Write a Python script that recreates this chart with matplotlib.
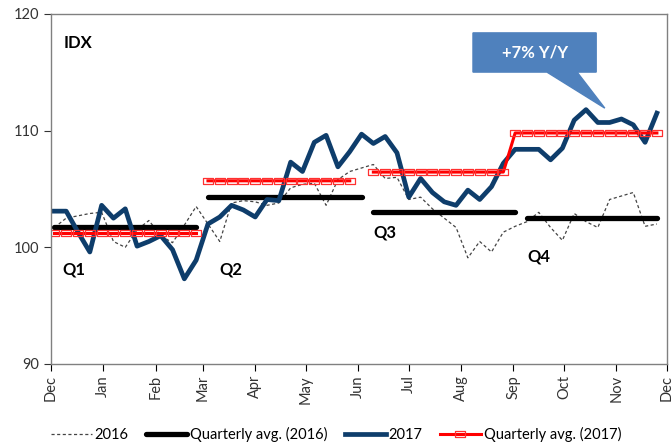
import matplotlib
matplotlib.use("Agg")
import matplotlib.pyplot as plt
from matplotlib.patches import Polygon
import numpy as np
import pandas as pd

plt.rcParams['font.family'] = ['Lato', 'DejaVu Sans']

# weekly observations
first_week = '2016-12-03'
n_weeks = 52

idx_2016 = [101.7, 102.5, 102.7, 102.9, 103.0, 100.5, 100.0, 101.5, 102.3, 101.0,
            100.4, 101.9, 103.5, 102.0, 100.5, 103.8, 104.0, 103.9, 103.6, 103.8,
            105.1, 105.4, 105.5, 103.6, 105.8, 106.5, 106.8, 107.1, 105.9, 106.0,
            104.1, 104.3, 103.3, 102.5, 101.7, 99.1, 100.5, 99.6, 101.3, 101.8,
            102.2, 103.0, 101.7, 100.6, 102.9, 102.2, 101.7, 104.1, 104.4, 104.7,
            101.8, 102.0]

idx_2017 = [103.1, 103.1, 101.3, 99.6, 103.6, 102.5, 103.3, 100.1, 100.5, 101.0,
            99.8, 97.3, 98.9, 102.0, 102.6, 103.6, 103.2, 102.6, 104.1, 104.0,
            107.3, 106.5, 109.0, 109.6, 106.9, 108.2, 109.7, 108.9, 109.5, 108.1,
            104.3, 105.9, 104.7, 103.9, 103.6, 104.9, 104.1, 105.2, 107.2, 108.4,
            108.4, 108.4, 107.5, 108.5, 110.9, 111.8, 110.7, 110.7, 111.0, 110.5,
            109.0, 111.5]

# quarterly averages: (first week, last week, level)
q_avg_2016 = [(0, 12, 101.75), (13, 26, 104.3), (27, 39, 103.0), (40, 51, 102.5)]
q_avg_2017 = [(0, 12, 101.25), (13, 25, 105.7), (27, 38, 106.45), (39, 51, 109.8)]
q_labels = ['Q1', 'Q2', 'Q3', 'Q4']
month_names = ['Dec', 'Jan', 'Feb', 'Mar', 'Apr', 'May', 'Jun',
               'Jul', 'Aug', 'Sep', 'Oct', 'Nov', 'Dec']

weeks = pd.date_range(first_week, periods=n_weeks, freq='7D')
months = pd.date_range('2016-12-01', '2017-12-01', freq='MS')

fig = plt.figure(figsize=(6.72, 4.47), dpi=100)
ax = fig.add_axes([0.0759, 0.1857, 0.9167, 0.783])

navy = '#0E3D6B'
red = '#FF0000'

l16, = ax.plot(weeks, idx_2016, color='#444444', lw=0.9, ls=(0, (2.5, 2)),
               label='2016')

# black quarterly averages 2016
for a, b, lvl in q_avg_2016:
    lq16, = ax.plot(weeks[a:b + 1], [lvl] * (b - a + 1), color='black', lw=3.8,
                    solid_capstyle='round', label='Quarterly avg. (2016)')

l17, = ax.plot(weeks, idx_2017, color=navy, lw=3.4, solid_joinstyle='round',
               label='2017')

# red quarterly averages 2017 (Q1 and Q2 stand alone, Q3 runs into Q4)
avg17 = np.full(n_weeks, np.nan)
for a, b, lvl in q_avg_2017:
    avg17[a:b + 1] = lvl
box = [(-1.4, -1), (1.4, -1), (1.4, 1), (-1.4, 1), (-1.4, -1)]
mk = dict(color=red, lw=2.2, marker=box, ms=7, mfc='none', mec='#FF3030', mew=0.9)
ax.plot(weeks[:13], avg17[:13], **mk)
lq17, = ax.plot(weeks[13:], avg17[13:], label='Quarterly avg. (2017)', **mk)

ax.set_xlim(months[0], months[-1])
ax.set_ylim(90, 120)
ax.set_yticks([90, 100, 110, 120])
ax.set_xticks(months)
ax.set_xticklabels(month_names, rotation=90, fontsize=10.5, color='#333333')
ax.tick_params(axis='y', labelsize=10.5, colors='#333333', length=5, width=0.8)
ax.tick_params(axis='x', length=5, width=0.8, pad=3)
for s in ax.spines.values():
    s.set_color('#808080')
    s.set_linewidth(1.0)

ax.text(0.021, 0.917, 'IDX', transform=ax.transAxes, fontsize=12,
        fontweight='bold', va='center', ha='left')
q_pos = [(0.018, 0.269), (0.274, 0.269), (0.523, 0.377), (0.774, 0.306)]
for lab, (px, py) in zip(q_labels, q_pos):
    ax.text(px, py, lab, transform=ax.transAxes, fontsize=12,
            fontweight='bold', va='center', ha='left')

# callout box
callout = Polygon([(0.685, 0.834), (0.805, 0.834), (0.899, 0.731), (0.854, 0.834),
                   (0.885, 0.834), (0.885, 0.946), (0.685, 0.946)],
                  closed=True, transform=ax.transAxes, facecolor='#4F81BD',
                  edgecolor='#4F81BD', zorder=5)
ax.add_patch(callout)
ax.text(0.786, 0.889, '+7% Y/Y', transform=ax.transAxes, fontsize=12,
        fontweight='bold', color='white', ha='center', va='center', zorder=6)

fig.legend([l16, lq16, l17, lq17],
           ['2016', 'Quarterly avg. (2016)', '2017', 'Quarterly avg. (2017)'],
           loc='center', bbox_to_anchor=(0.5, 0.027), ncol=4, frameon=False,
           fontsize=10.5, handlelength=2.8, handletextpad=0.2, columnspacing=1.2)

fig.savefig('out.png', dpi=100)
